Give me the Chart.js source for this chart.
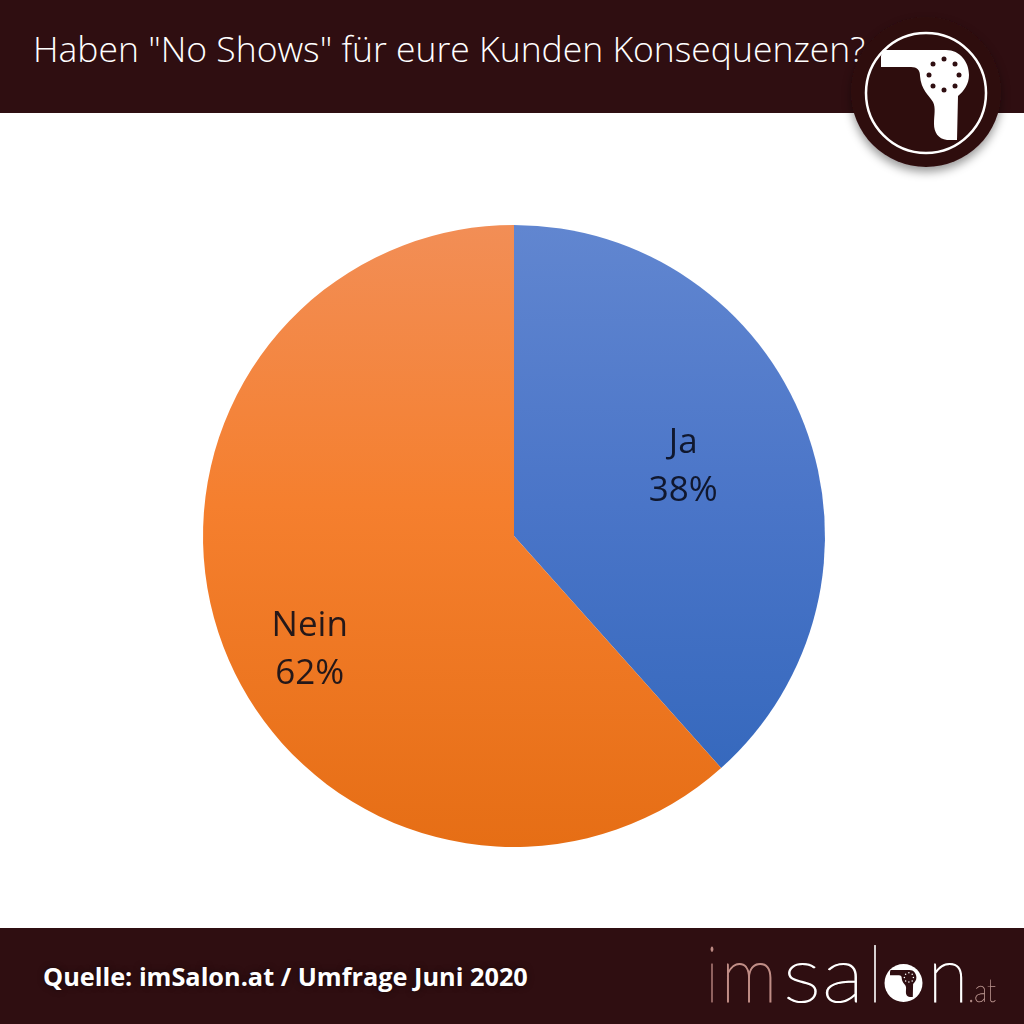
<!DOCTYPE html>
<html lang="de">
<head>
<meta charset="utf-8">
<title>Haben "No Shows" für eure Kunden Konsequenzen?</title>
<script src="https://cdn.jsdelivr.net/npm/chart.js@4"></script>
<style>
  html, body { margin: 0; padding: 0; background: #fff; }
  #page { position: relative; width: 1024px; height: 1024px; overflow: hidden; font-family: "Open Sans", sans-serif; }
  #head, #foot { position: absolute; left: 0; width: 1024px; background: #2f0e11; }
  #head { top: 0; height: 113px; }
  #foot { top: 928px; height: 96px; }
  #title { position: absolute; left: 33px; top: 24px; color: #fff; font-size: 35.5px; font-weight: 300; line-height: 48px; white-space: nowrap; }
  #source { position: absolute; left: 43px; top: 31px; color: #fff; font-size: 25.3px; font-weight: 700; line-height: 34px; white-space: nowrap; text-shadow: 0 0 6px rgba(0,0,0,.5); }
  #chart_box { position: absolute; left: 0; top: 0; width: 1024px; height: 1024px; }
  #art { position: absolute; left: 0; top: 0; }
  .logo_text { stroke-width: 1.2px; }
</style>
</head>
<body>
<div id="page">
  <div id="head"><div id="title">Haben "No Shows" für eure Kunden Konsequenzen?</div></div>
  <div id="foot"><div id="source">Quelle: imSalon.at / Umfrage Juni 2020</div></div>
  <div id="chart_box"><canvas id="poll_chart" width="1024" height="1024"></canvas></div>
  <svg id="art" width="1024" height="1024" viewBox="0 0 1024 1024">
    <defs>
      <filter id="badge_shadow" x="-30%" y="-30%" width="160%" height="160%">
        <feDropShadow dx="0" dy="5" stdDeviation="5" flood-color="#000" flood-opacity=".4"/>
      </filter>
      <path id="dryer_body" d="M883 50 L946 50 C960 50 969 62 969 75 C969 84 964 91 958 96 L957 140 L947 140 C938 139 934 132 934 124 C934 115 936 108 933 102 C929 95 921 90 920 76 C920 70 917 67 911 67 L881 67 L881 56 Z"/>
      <g id="dryer_dots">
        <circle cx="944" cy="59" r="2.5"/><circle cx="955" cy="64" r="2.5"/>
        <circle cx="959" cy="75" r="2.5"/><circle cx="955" cy="86" r="2.5"/>
        <circle cx="944" cy="90" r="2.5"/><circle cx="933" cy="86" r="2.5"/>
        <circle cx="929" cy="75" r="2.5"/><circle cx="933" cy="64" r="2.5"/>
      </g>
    </defs>
    <circle cx="926" cy="92" r="75" fill="#2f0e11" filter="url(#badge_shadow)"/>
    <circle cx="926" cy="93" r="60" fill="none" stroke="#fff" stroke-width="2.5"/>
    <use href="#dryer_body" fill="#fff"/>
    <use href="#dryer_dots" fill="#2f0e11"/>
    <g font-family="Lato" font-weight="100" font-size="78" class="logo_text">
      <text x="708" y="1002" fill="#c08d86" stroke="#c08d86" textLength="8" lengthAdjust="spacingAndGlyphs">i</text>
      <text x="721" y="1002" fill="#c08d86" stroke="#c08d86" textLength="56" lengthAdjust="spacingAndGlyphs">m</text>
      <text x="783" y="1002" fill="#fff" stroke="#fff" textLength="38" lengthAdjust="spacingAndGlyphs">s</text>
      <text x="822" y="1002" fill="#fff" stroke="#fff" textLength="42" lengthAdjust="spacingAndGlyphs">a</text>
      <text x="870" y="1002" fill="#fff" stroke="#fff" textLength="10" lengthAdjust="spacingAndGlyphs">l</text>
      <text x="928" y="1002" fill="#fff" stroke="#fff" textLength="40" lengthAdjust="spacingAndGlyphs">n</text>
      <text x="968" y="1002" fill="#b58f8a" font-size="32" stroke="#b58f8a" stroke-width=".5" textLength="28" lengthAdjust="spacingAndGlyphs">.at</text>
    </g>
    <circle cx="903.5" cy="983" r="19" fill="#fff"/>
    <g transform="translate(903.5 983) scale(.3) translate(-926 -93)">
      <use href="#dryer_body" fill="#2f0e11"/>
      <use href="#dryer_dots" fill="#fff"/>
    </g>
  </svg>
</div>
<script>
const categories = ['Ja', 'Nein'];
const shares = [38.4, 61.6];
const percent_labels = ['38%', '62%'];
const top_colors = ['#6186d0', '#f28e56'];
const middle_colors = ['#4a75c8', '#f57f2e'];
const bottom_colors = ['#3065ba', '#e66e15'];
// offsets from the slice centre point, Excel did not put them in the middle
const label_shift = [[24, -14], [-59, 59]];

const slice_fill = function(context) {
  const area = context.chart.chartArea;
  if (!area) return top_colors[context.dataIndex];
  const gradient = context.chart.ctx.createLinearGradient(0, area.top, 0, area.bottom);
  gradient.addColorStop(0, top_colors[context.dataIndex]);
  gradient.addColorStop(0.45, middle_colors[context.dataIndex]);
  gradient.addColorStop(1, bottom_colors[context.dataIndex]);
  return gradient;
};

const slice_labels = {
  id: 'slice_labels',
  afterDatasetsDraw: function(chart) {
    const ctx = chart.ctx;
    ctx.save();
    ctx.fillStyle = 'rgba(8, 10, 24, 0.88)';
    ctx.font = '35px "Open Sans"';
    ctx.textAlign = 'center';
    ctx.textBaseline = 'middle';
    chart.getDatasetMeta(0).data.forEach(function(arc, idx) {
      const pos = arc.tooltipPosition();
      const x = pos.x + label_shift[idx][0];
      const y = pos.y + label_shift[idx][1];
      ctx.fillText(categories[idx], x, y - 24);
      ctx.fillText(percent_labels[idx], x, y + 24);
    });
    ctx.restore();
  }
};

const chart = new Chart('poll_chart', {
  type: 'pie',
  data: {
    labels: categories,
    datasets: [{
      data: shares,
      backgroundColor: slice_fill,
      borderWidth: 0
    }]
  },
  options: {
    responsive: false,
    animation: false,
    layout: { padding: { left: 203, right: 199, top: 225, bottom: 177 } },
    plugins: {
      legend: { display: false },
      tooltip: { enabled: false }
    }
  },
  plugins: [slice_labels]
});
</script>
</body>
</html>
